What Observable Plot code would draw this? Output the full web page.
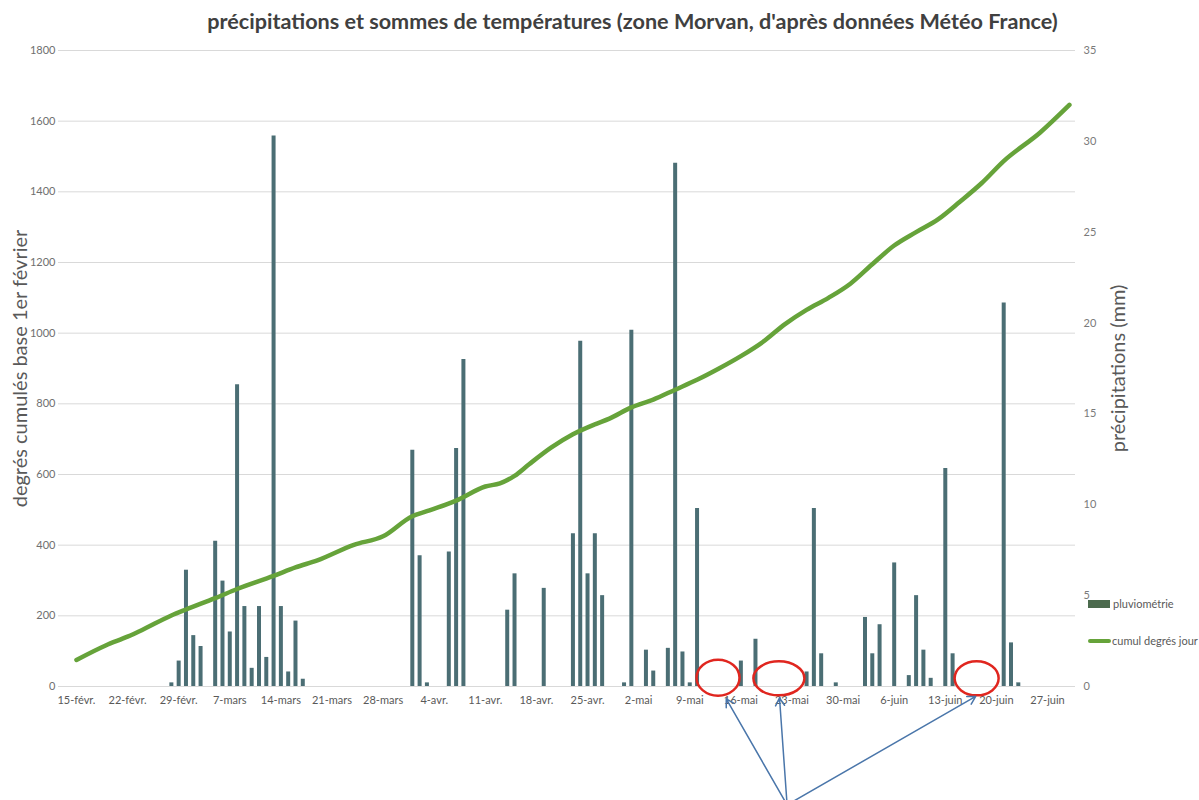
<!DOCTYPE html>
<html><head><meta charset="utf-8">
<script src="https://cdn.jsdelivr.net/npm/d3@7"></script>
<script src="https://cdn.jsdelivr.net/npm/@observablehq/plot@0.6"></script>
<style>
body{margin:0;overflow:hidden;background:#fff;font-family:Lato,"Open Sans",sans-serif;}
#wrap{position:relative;width:1199px;height:800px;overflow:hidden;}
#title{position:absolute;left:0;top:8px;width:1199px;box-sizing:border-box;padding-left:66px;text-align:center;font-weight:bold;font-size:21.6px;color:#404040;white-space:nowrap;}
#chart{position:absolute;left:0;top:40px;}
.sw{position:absolute;}
.lt{position:absolute;font-size:11px;line-height:14px;color:#595959;white-space:nowrap;}
</style></head>
<body><div id="wrap">
<div id="title">précipitations et sommes de températures (zone Morvan, d'après données Météo France)</div>
<div id="chart"></div>
<div class="sw" style="left:1088px;top:600px;width:22px;height:8px;background:#4b6a4d"></div>
<div class="lt" style="left:1113px;top:597px">pluviométrie</div>
<div class="sw" style="left:1088px;top:639px;width:23px;height:4px;border-radius:2px;background:#66a33a"></div>
<div class="lt" style="left:1112px;top:634px">cumul degrés jour</div>
</div>
<script>
// precipitation (mm), daily
const precipDates = ["2016-02-28","2016-02-29","2016-03-01","2016-03-02","2016-03-03","2016-03-05","2016-03-06","2016-03-07","2016-03-08","2016-03-09","2016-03-10","2016-03-11","2016-03-12","2016-03-13","2016-03-14","2016-03-15","2016-03-16","2016-03-17","2016-04-01","2016-04-02","2016-04-03","2016-04-06","2016-04-07","2016-04-08","2016-04-14","2016-04-15","2016-04-19","2016-04-23","2016-04-24","2016-04-25","2016-04-26","2016-04-27","2016-04-30","2016-05-01","2016-05-03","2016-05-04","2016-05-06","2016-05-07","2016-05-08","2016-05-09","2016-05-10","2016-05-16","2016-05-18","2016-05-25","2016-05-26","2016-05-27","2016-05-29","2016-06-02","2016-06-03","2016-06-04","2016-06-06","2016-06-08","2016-06-09","2016-06-10","2016-06-11","2016-06-13","2016-06-14","2016-06-21","2016-06-22","2016-06-23"];
const precipMm = [0.2,1.4,6.4,2.8,2.2,8.0,5.8,3.0,16.6,4.4,1.0,4.4,1.6,30.3,4.4,0.8,3.6,0.4,13.0,7.2,0.2,7.4,13.1,18.0,4.2,6.2,5.4,8.4,19.0,6.2,8.4,5.0,0.2,19.6,2.0,0.85,2.1,28.8,1.9,0.2,9.8,1.4,2.6,0.8,9.8,1.8,0.2,3.8,1.8,3.4,6.8,0.6,5.0,2.0,0.45,12.0,1.8,21.1,2.4,0.2];
// cumulated degree-days (base 1 Feb)
const cumulDates = ["2016-02-15","2016-02-19","2016-02-22","2016-02-24","2016-02-28","2016-03-01","2016-03-05","2016-03-08","2016-03-13","2016-03-16","2016-03-19","2016-03-24","2016-03-28","2016-04-01","2016-04-03","2016-04-07","2016-04-11","2016-04-13","2016-04-15","2016-04-17","2016-04-20","2016-04-23","2016-04-26","2016-04-28","2016-05-01","2016-05-04","2016-05-07","2016-05-10","2016-05-13","2016-05-16","2016-05-19","2016-05-22","2016-05-25","2016-05-28","2016-05-31","2016-06-03","2016-06-06","2016-06-09","2016-06-12","2016-06-15","2016-06-18","2016-06-21","2016-06-26","2016-06-30"];
const cumulDeg = [75,116,141,160,201,218,250,276,313,337,357,401,425,482,496,526,566,575,596,629,676,714,742,758,790,812,840,868,900,935,975,1025,1066,1100,1140,1195,1248,1286,1322,1372,1425,1487,1568,1646];
// axes
const tickDates = ["2016-02-15","2016-02-22","2016-02-29","2016-03-07","2016-03-14","2016-03-21","2016-03-28","2016-04-04","2016-04-11","2016-04-18","2016-04-25","2016-05-02","2016-05-09","2016-05-16","2016-05-23","2016-05-30","2016-06-06","2016-06-13","2016-06-20","2016-06-27"];
const tickLabels = ["15-févr.","22-févr.","29-févr.","7-mars","14-mars","21-mars","28-mars","4-avr.","11-avr.","18-avr.","25-avr.","2-mai","9-mai","16-mai","23-mai","30-mai","6-juin","13-juin","20-juin","27-juin"];
const leftTicks = [0,200,400,600,800,1000,1200,1400,1600,1800];
const rightTicks = [0,5,10,15,20,25,30,35];
const leftTitle = "degrés cumulés base 1er février";
const rightTitle = "précipitations (mm)";
// annotations (red ellipses + arrows), in data units of the left scale
const circleDates = ["2016-05-12T21:00Z","2016-05-21T05:00Z","2016-06-17T07:00Z"];
const circleValues = [25,23,23];
const circleRx = [21.5,25.5,22];
const circleRy = [18,17,17];
const arrowFromDate = "2016-05-22T08:00Z";
const arrowFromValue = -335;
const arrowToDates = ["2016-05-14T00:00Z","2016-05-21T07:00Z","2016-06-17T04:00Z"];
const arrowToValues = [-35,-32,-28];

const K = 1800 / 35;
const bars = precipDates.map((d, i) => ({date: new Date(d), v: precipMm[i] * K}));
const cumul = cumulDates.map((d, i) => ({date: new Date(d), v: cumulDeg[i]}));
const circles = circleDates.map((d, i) => ({date: new Date(d), v: circleValues[i], rx: circleRx[i], ry: circleRy[i]}));
const arrows = arrowToDates.map((d, i) => ({date: new Date(d), v: arrowToValues[i]}));

function ellipseSymbol(rx, ry) {
  const k = 0.5523;
  return {draw(c) {
    c.moveTo(rx, 0);
    c.bezierCurveTo(rx, k * ry, k * rx, ry, 0, ry);
    c.bezierCurveTo(-k * rx, ry, -rx, k * ry, -rx, 0);
    c.bezierCurveTo(-rx, -k * ry, -k * rx, -ry, 0, -ry);
    c.bezierCurveTo(k * rx, -ry, rx, -k * ry, rx, 0);
    c.closePath();
  }};
}

const tickMap = new Map(tickDates.map((d, i) => [d, tickLabels[i]]));

const chart = Plot.plot({
  width: 1199, height: 760,
  marginTop: 10, marginBottom: 114, marginLeft: 58, marginRight: 124,
  style: {fontFamily: "Lato, 'Open Sans', sans-serif", background: "transparent", overflow: "visible"},
  x: {type: "utc", domain: [new Date("2016-02-12T13:00Z"), new Date("2016-06-30T20:00Z")]},
  y: {domain: [0, 1800]},
  marks: [
    Plot.gridY(leftTicks, {stroke: "#d9d9d9", strokeOpacity: 1, strokeWidth: 1}),
    Plot.axisY(leftTicks, {anchor: "left", tickSize: 0, tickPadding: 3, label: null, fontSize: 11, color: "#6f6f6f", tickFormat: d => String(d)}),
    Plot.axisY(rightTicks.map(v => v * K), {anchor: "right", tickSize: 0, tickPadding: 8, label: null, fontSize: 11, color: "#7a7a7a", tickFormat: d => String(Math.round(d / K))}),
    Plot.axisX(tickDates.map(d => new Date(d)), {tickSize: 0, tickPadding: 10, label: null, fontSize: 11, color: "#595959", tickFormat: d => tickMap.get(d.toISOString().slice(0, 10))}),
    Plot.ruleX(bars, {x: "date", y1: 0, y2: "v", stroke: "#4b6e74", strokeWidth: 4}),
    Plot.line(cumul, {x: "date", y: "v", stroke: "#66a33a", strokeWidth: 4.5, curve: "monotone-x", strokeLinecap: "round", strokeLinejoin: "round"}),
    ...circles.map(c => Plot.dot([c], {x: "date", y: "v", r: 10, symbol: ellipseSymbol(c.rx, c.ry), stroke: "#e0261f", strokeWidth: 2.5, fill: "none"})),
    Plot.arrow(arrows, {x1: () => new Date(arrowFromDate), y1: () => arrowFromValue, x2: "date", y2: "v", stroke: "#4a76aa", strokeWidth: 1.5, headLength: 9}),
    Plot.text([leftTitle], {text: d => d, frameAnchor: "left", textAnchor: "middle", lineAnchor: "middle", dx: -38, rotate: -90, fontSize: 20, fill: "#595959"}),
    Plot.text([rightTitle], {text: d => d, frameAnchor: "right", textAnchor: "middle", lineAnchor: "middle", dx: 43, rotate: -90, fontSize: 20, fill: "#595959"})
  ]
});
document.getElementById("chart").appendChild(chart);
</script>
</body></html>
